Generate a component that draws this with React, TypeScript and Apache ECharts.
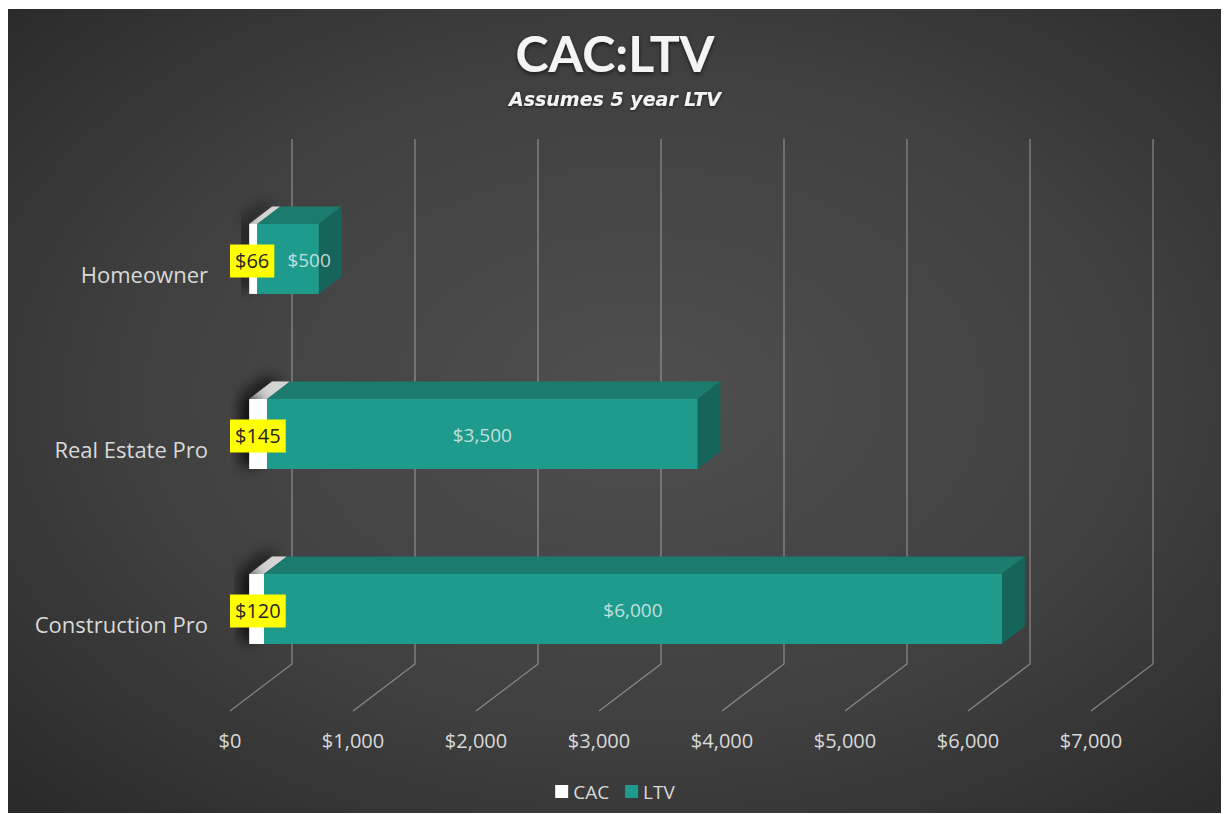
import React, { useEffect, useRef } from 'react';
import * as echarts from 'echarts';

// ---- data ----
const categories = ['Construction Pro', 'Real Estate Pro', 'Homeowner'];
const cacValues = [120, 145, 66];
const ltvValues = [6000, 3500, 500];
const xTicks = [0, 1000, 2000, 3000, 4000, 5000, 6000, 7000];
const seriesNames = ['CAC', 'LTV'];
const titleText = 'CAC:LTV';
const subtitleText = 'Assumes 5 year LTV';

// ---- 3D projection styling ----
const FLOOR_DX = 62;
const FLOOR_DY = -47;
const BAR_FRONT = 0.31;
const BAR_BACK = 0.68;
const BAR_RATIO = 0.4;
const FONT = '"Open Sans", Lato, sans-serif';

const fmt = (v: number) => '$' + String(v).replace(/\B(?=(\d{3})+(?!\d))/g, ',');

const COLORS: Record<string, { front: string; top: string; side: string }> = {
  CAC: { front: '#ffffff', top: '#d4d4d4', side: '#bdbdbd' },
  LTV: { front: '#1e9b8c', top: '#1b7b6f', side: '#16655b' },
};

function barGeom(api: any, start: number, end: number, cat: number) {
  const p0 = api.coord([start, cat]);
  const p1 = api.coord([end, cat]);
  const band = api.size([0, 1])[1];
  const h = band * BAR_RATIO;
  const ox = FLOOR_DX * BAR_FRONT;
  const oy = FLOOR_DY * BAR_FRONT;
  const dx = FLOOR_DX * (BAR_BACK - BAR_FRONT);
  const dy = FLOOR_DY * (BAR_BACK - BAR_FRONT);
  const x0 = p0[0] + ox;
  const x1 = p1[0] + ox;
  const cy = p0[1] + oy;
  return { floorX0: p0[0], x0, x1, yT: cy - h / 2, yB: cy + h / 2, cy, dx, dy, h };
}

function makeBarRender(name: string) {
  const c = COLORS[name];
  return (params: any, api: any) => {
    const start = api.value(0);
    const end = api.value(1);
    const cat = api.value(2);
    const g = barGeom(api, start, end, cat);
    const { x0, x1, yT, yB, dx, dy, h } = g;
    const children: any[] = [];
    const shadow =
      name === 'CAC'
        ? { shadowBlur: 14, shadowColor: 'rgba(0,0,0,0.85)', shadowOffsetX: -8, shadowOffsetY: -3 }
        : {};
    children.push({
      type: 'polygon',
      shape: { points: [[x0, yT], [x1, yT], [x1 + dx, yT + dy], [x0 + dx, yT + dy]] },
      style: { fill: c.top, ...shadow },
    });
    if (name !== 'CAC') {
      children.push({
        type: 'polygon',
        shape: { points: [[x1, yT], [x1 + dx, yT + dy], [x1 + dx, yB + dy], [x1, yB]] },
        style: { fill: c.side },
      });
    }
    children.push({
      type: 'rect',
      shape: { x: x0, y: yT, width: x1 - x0, height: h },
      style: { fill: c.front, ...shadow },
    });
    const idx = params.dataIndex;
    if (name === 'CAC') {
      children.push({
        type: 'text',
        z2: 100,
        style: {
          x: g.floorX0,
          y: g.cy + 2,
          text: fmt(cacValues[idx]),
          align: 'left',
          verticalAlign: 'middle',
          fill: '#262626',
          font: `20px ${FONT}`,
          backgroundColor: '#ffff00',
          padding: [5, 5, 5, 5],
          lineHeight: 23,
        },
      });
    } else {
      const txt = fmt(ltvValues[idx]);
      const half = txt.length * 5.7;
      const boxRight = g.floorX0 + fmt(cacValues[idx]).length * 11.4 + 10;
      const cx = Math.max((x0 + x1) / 2, boxRight + 4 + half);
      children.push({
        type: 'text',
        z2: 90,
        style: {
          x: cx,
          y: g.cy + 1,
          text: txt,
          align: 'center',
          verticalAlign: 'middle',
          fill: 'rgba(230,242,240,0.82)',
          font: `19px ${FONT}`,
        },
      });
    }
    return { type: 'group', children };
  };
}

function renderGridLine(params: any, api: any) {
  const v = api.value(0);
  const pBottom = api.coord([v, 0]);
  const pTop = api.coord([v, categories.length - 1]);
  const band = api.size([0, 1])[1];
  const yFront = pBottom[1] + band / 2;
  const yTop = pTop[1] - band / 2;
  const x = pBottom[0];
  return {
    type: 'polyline',
    shape: {
      points: [
        [x, yFront],
        [x + FLOOR_DX, yFront + FLOOR_DY],
        [x + FLOOR_DX, yTop + FLOOR_DY],
      ],
    },
    style: { stroke: 'rgba(205,205,205,0.5)', lineWidth: 1.3, fill: 'none' },
  };
}

export default function App() {
  const ref = useRef<HTMLDivElement>(null);
  useEffect(() => {
    if (!ref.current) return;
    const chart = echarts.init(ref.current, undefined, { renderer: 'svg' });
    const cacData = categories.map((_, i) => [0, cacValues[i], i]);
    const ltvData = categories.map((_, i) => [cacValues[i], cacValues[i] + ltvValues[i], i]);
    chart.setOption({
      animation: false,
      backgroundColor: {
        type: 'radial',
        x: 0.52,
        y: 0.48,
        r: 0.75,
        colorStops: [
          { offset: 0, color: '#4f4f4f' },
          { offset: 0.55, color: '#404040' },
          { offset: 1, color: '#282828' },
        ],
      },
      title: [
        {
          text: titleText,
          left: 'center',
          top: 14,
          textStyle: {
            color: '#f4f4f4',
            fontSize: 50,
            fontWeight: 'bold',
            fontFamily: 'Lato, sans-serif',
            textShadowColor: 'rgba(0,0,0,0.6)',
            textShadowBlur: 4,
            textShadowOffsetY: 2,
          },
        },
        {
          text: subtitleText,
          left: 'center',
          top: 75,
          textStyle: {
            color: '#f4f4f4',
            fontSize: 19,
            fontWeight: 'bold',
            fontStyle: 'italic',
            fontFamily: '"DejaVu Sans", sans-serif',
            textShadowColor: 'rgba(0,0,0,0.6)',
            textShadowBlur: 3,
            textShadowOffsetY: 1,
          },
        },
      ],
      legend: {
        data: seriesNames,
        top: 768,
        left: 'center',
        icon: 'rect',
        itemWidth: 13,
        itemHeight: 13,
        itemGap: 16,
        textStyle: { color: '#d9d9d9', fontSize: 19, fontFamily: FONT },
      },
      grid: { left: 222, width: 861, top: 177, height: 525 },
      xAxis: {
        type: 'value',
        min: 0,
        max: 7000,
        interval: 1000,
        axisLine: { show: false },
        axisTick: { show: false },
        splitLine: { show: false },
        axisLabel: {
          formatter: (v: number) => fmt(v),
          color: '#d9d9d9',
          fontSize: 20,
          fontFamily: FONT,
          margin: 19,
        },
      },
      yAxis: {
        type: 'category',
        data: categories,
        axisLine: { show: false },
        axisTick: { show: false },
        splitLine: { show: false },
        axisLabel: {
          color: '#d9d9d9',
          fontSize: 22,
          fontFamily: FONT,
          margin: 22,
        },
      },
      series: [
        {
          name: 'gridlines',
          type: 'custom',
          renderItem: renderGridLine,
          data: xTicks.map((t) => [t]),
          encode: { x: 0 },
          silent: true,
          z: 1,
        },
        {
          name: 'CAC',
          type: 'custom',
          renderItem: makeBarRender('CAC'),
          data: cacData,
          encode: { x: [0, 1], y: 2 },
          itemStyle: { color: '#ffffff' },
          z: 3,
        },
        {
          name: 'LTV',
          type: 'custom',
          renderItem: makeBarRender('LTV'),
          data: ltvData,
          encode: { x: [0, 1], y: 2 },
          itemStyle: { color: '#1e9b8c' },
          z: 3,
        },
      ],
    });
    return () => chart.dispose();
  }, []);
  return (
    <div
      ref={ref}
      style={{ width: 1214, height: 805, position: 'relative', top: 1 }}
    />
  );
}
